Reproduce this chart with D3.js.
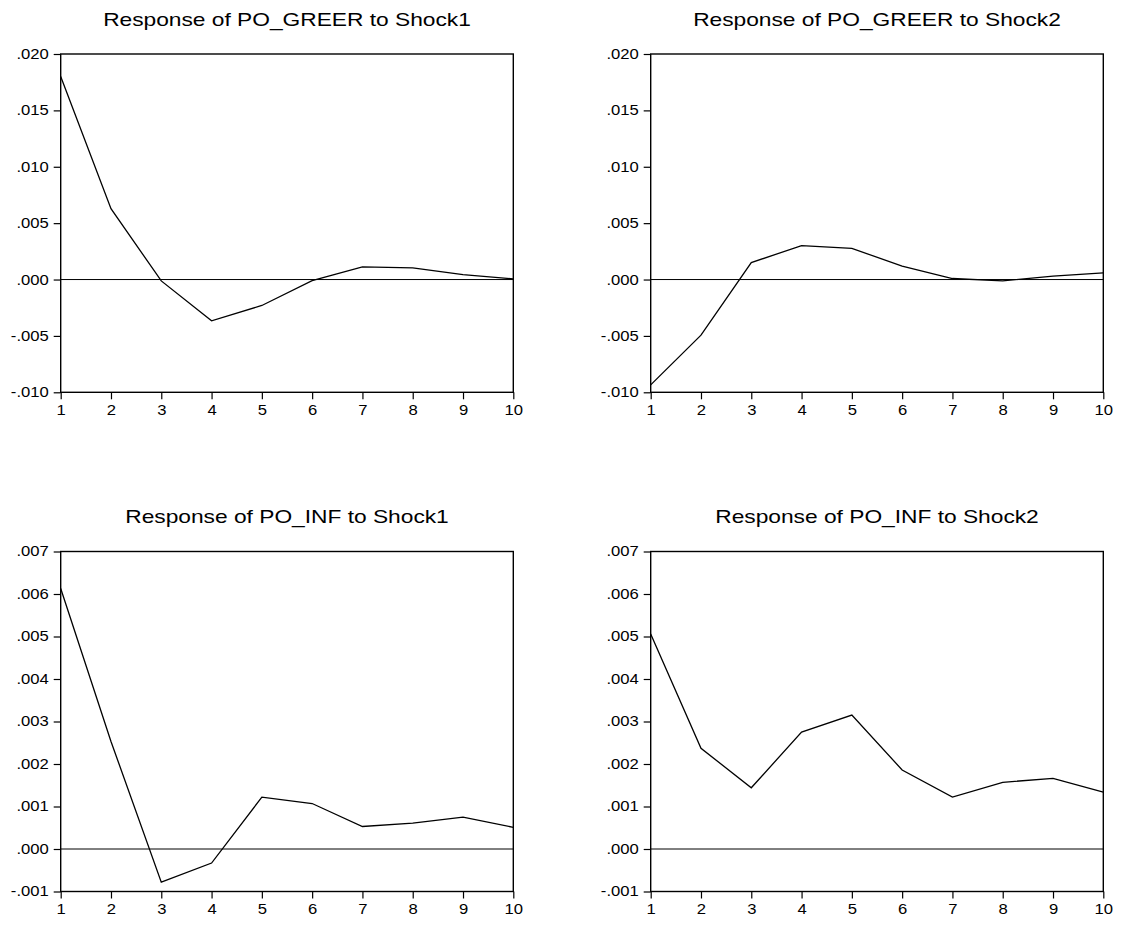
<!DOCTYPE html>
<html>
<head>
<meta charset="utf-8">
<script src="https://cdn.jsdelivr.net/npm/d3@7"></script>
<style>
  body { margin: 0; background: #fff; }
  text { font-family: "Liberation Sans", Arial, sans-serif; fill: #000; }
</style>
</head>
<body>
<div id="chart"></div>
<script>
// periods on the x axis
const periods = [1, 2, 3, 4, 5, 6, 7, 8, 9, 10];

// responses
const greerShock1 = [0.0180, 0.00628, -0.00012, -0.00366, -0.0023, -0.0001, 0.00112, 0.00103, 0.00044, 0.00006];
const greerShock2 = [-0.00934, -0.00493, 0.0015, 0.00301, 0.00277, 0.00118, 0.00009, -0.00012, 0.0003, 0.00059];
const infShock1 = [0.00613, 0.00253, -0.00078, -0.00033, 0.00122, 0.00107, 0.00053, 0.00061, 0.00075, 0.00051];
const infShock2 = [0.00506, 0.00237, 0.00144, 0.00275, 0.00315, 0.00186, 0.00122, 0.00157, 0.00166, 0.00134];

// y tick values
const greerTicks = [-0.010, -0.005, 0.000, 0.005, 0.010, 0.015, 0.020];
const infTicks = [-0.001, 0.000, 0.001, 0.002, 0.003, 0.004, 0.005, 0.006, 0.007];

const titles = [
    "Response of PO_GREER to Shock1",
    "Response of PO_GREER to Shock2",
    "Response of PO_INF to Shock1",
    "Response of PO_INF to Shock2"
];

const width = 1126;
const height = 925;

const svg = d3.select("#chart")
    .append("svg")
    .attr("width", width)
    .attr("height", height);

// panel boxes (plot area)
const cols = [[60.7, 513.3], [650.7, 1103.3]];
const rows = [[54, 392.3], [551.5, 891.5]];

const panels = [
    { title: titles[0], values: greerShock1, ticks: greerTicks, col: 0, row: 0 },
    { title: titles[1], values: greerShock2, ticks: greerTicks, col: 1, row: 0 },
    { title: titles[2], values: infShock1, ticks: infTicks, col: 0, row: 1 },
    { title: titles[3], values: infShock2, ticks: infTicks, col: 1, row: 1 }
];

// the original text is a bit wide, so stretch it sideways
const titleStretch = 1.23;
const tickStretch = 1.19;

// drop the leading zero and use a plain hyphen, like EViews
const fmt = v => d3.format(".3f")(v).replace("\u2212", "-").replace(/^(-?)0\./, "$1.");

panels.forEach(p => {
    const [x0, x1] = cols[p.col];
    const [y0, y1] = rows[p.row];

    const x = d3.scaleLinear().domain([1, 10]).range([x0, x1]);
    const y = d3.scaleLinear().domain(d3.extent(p.ticks)).range([y1, y0]);

    const g = svg.append("g");

    // title
    g.append("text")
        .attr("transform", `translate(${(x0 + x1) / 2},${y0 - 28.5}) scale(${titleStretch},1)`)
        .attr("text-anchor", "middle")
        .style("font-size", "18.5px")
        .text(p.title);

    // y axis
    const yAxis = g.append("g")
        .attr("transform", `translate(${x0},0)`)
        .call(d3.axisLeft(y).tickValues(p.ticks).tickFormat(fmt).tickSize(7).tickPadding(3));
    yAxis.select(".domain").remove();
    yAxis.selectAll("line").attr("stroke-width", 1.2);
    yAxis.selectAll("text")
        .attr("transform", `scale(${tickStretch},1)`)
        .style("font-size", "14px");

    // x axis
    const xAxis = g.append("g")
        .attr("transform", `translate(0,${y1})`)
        .call(d3.axisBottom(x).tickValues(periods).tickFormat(d3.format("d")).tickSize(7).tickPadding(6));
    xAxis.select(".domain").remove();
    xAxis.selectAll("line").attr("stroke-width", 1.2);
    xAxis.selectAll("text")
        .attr("transform", `scale(${tickStretch},1)`)
        .style("font-size", "14px");

    // zero line
    g.append("line")
        .attr("x1", x0).attr("x2", x1)
        .attr("y1", y(0)).attr("y2", y(0))
        .attr("stroke", "#000")
        .attr("stroke-width", 1);

    // response line
    const line = d3.line()
        .x((d, i) => x(periods[i]))
        .y(d => y(d));

    g.append("path")
        .datum(p.values)
        .attr("d", line)
        .attr("fill", "none")
        .attr("stroke", "#000")
        .attr("stroke-width", 1.3);

    // frame
    g.append("rect")
        .attr("x", x0).attr("y", y0)
        .attr("width", x1 - x0).attr("height", y1 - y0)
        .attr("fill", "none")
        .attr("stroke", "#000")
        .attr("stroke-width", 1.4);
});
</script>
</body>
</html>
